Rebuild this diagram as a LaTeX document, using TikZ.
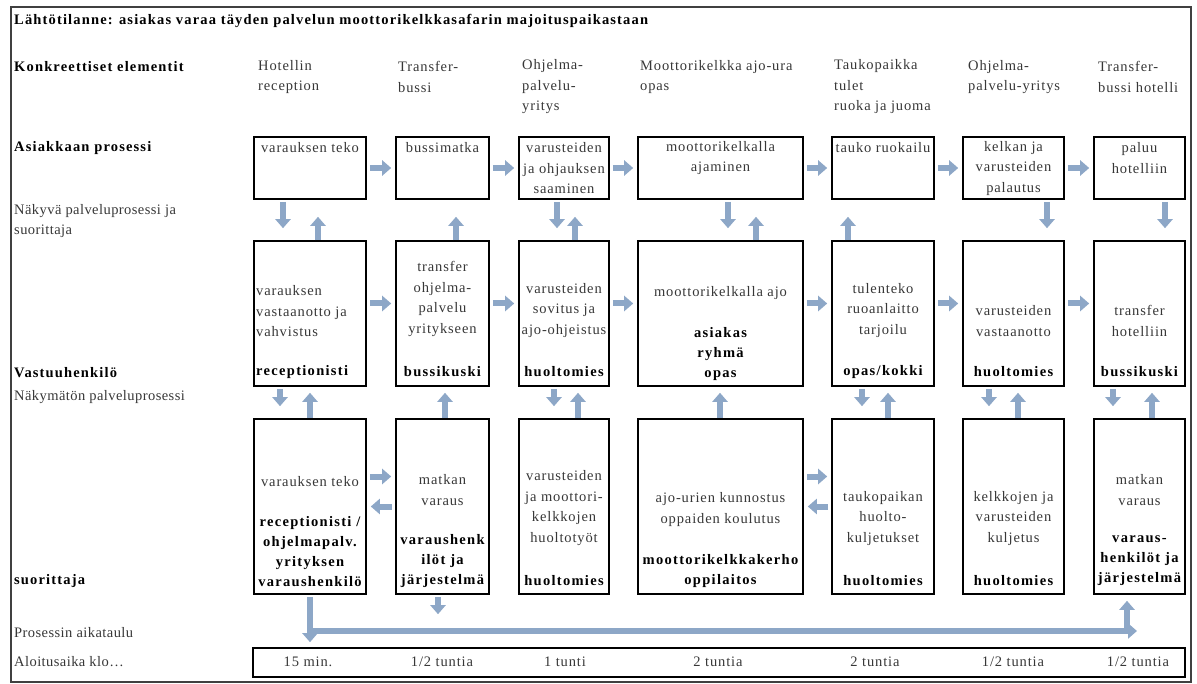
\documentclass[tikz,border=0pt]{standalone}
\usepackage{fontspec}
\setmainfont{Liberation Serif}[LetterSpace=6,BoldFeatures={LetterSpace=9}]
\newfontfamily\lblfont{Liberation Serif}[LetterSpace=3,BoldFeatures={LetterSpace=8}]
\usetikzlibrary{arrows.meta,calc}
\definecolor{arr}{RGB}{141,167,199}
\definecolor{txtc}{RGB}{55,55,55}
\begin{document}
\begin{tikzpicture}[x=1pt,y=-1pt,
  box/.style={draw=black,line width=1.6pt,inner sep=0pt},
  barrow/.style={draw=arr,line width=6pt,-{Triangle[width=15pt,length=9pt]}},
  tx/.style={text=txtc,inner sep=0pt,align=center,font=\fontsize{14.5}{20.5}\selectfont},
  bt/.style={text=black,inner sep=0pt,align=center,font=\bfseries\fontsize{14.5}{20}\selectfont},
  lt/.style={text=txtc,inner sep=0pt,align=left,anchor=west,font=\lblfont\fontsize{14.5}{20}\selectfont},
  lb/.style={text=black,inner sep=0pt,align=left,anchor=west,font=\lblfont\bfseries\fontsize{14.5}{20}\selectfont},
  hs/.style={shorten <=3pt,shorten >=4pt}]
\useasboundingbox (0,0) rectangle (1197,684);
\draw[line width=2pt,draw=black!75] (11,7) rectangle (1191,682);

% boxes
\foreach \n/\x/\w in {1/310/112,2/442.5/93,3/564/90,4/720.5/165,5/883/102,6/1013.5/101,7/1139.5/91}{
  \node[box,minimum width=\w pt,minimum height=62pt] (r1c\n) at (\x,168) {};
  \node[box,minimum width=\w pt,minimum height=145pt] (r2c\n) at (\x,313.5) {};
  \node[box,minimum width=\w pt,minimum height=175pt] (r3c\n) at (\x,506.5) {};
}
\node[box,minimum width=932pt,minimum height=29pt] (tl) at (719,662.5) {};

% left labels
\node[lb] (title) at (14,21) {Lähtötilanne: asiakas varaa täyden palvelun moottorikelkkasafarin majoituspaikastaan};
\node[lb] (lk) at (14,67) {Konkreettiset elementit};
\node[lb] (la) at (14,148) {Asiakkaan prosessi};
\node[lt] (ln) at (14,221) {Näkyvä palveluprosessi ja\\suorittaja};
\node[lb] (lv) at (14,373) {Vastuuhenkilö};
\node[lt] (lm) at (14,397) {Näkymätön palveluprosessi};
\node[lb] (ls) at (14,581) {suorittaja};
\node[lt] (lp) at (14,633) {Prosessin aikataulu};
\node[lt] (lal) at (14,662) {Aloitusaika klo…};

% headers
\node[tx,anchor=west,align=left] (h1) at (258,77) {Hotellin\\reception};
\node[tx,anchor=west,align=left] (h2) at (398,77) {Transfer-\\bussi};
\node[tx,anchor=west,align=left] (h3) at (522,87) {Ohjelma-\\palvelu-\\yritys};
\node[tx,anchor=west,align=left] (h4) at (640,77) {Moottorikelkka ajo-ura\\opas};
\node[tx,anchor=west,align=left] (h5) at (834,87) {Taukopaikka\\tulet\\ruoka ja juoma};
\node[tx,anchor=west,align=left] (h6) at (968,77) {Ohjelma-\\palvelu-yritys};
\node[tx,anchor=west,align=left] (h7) at (1098,77) {Transfer-\\bussi hotelli};

% row 1 texts
\node[tx] (a1) at (310,148) {varauksen teko};
\node[tx] (a2) at (442.5,148) {bussimatka};
\node[tx] (a3) at (564,168.5) {varusteiden\\ja ohjauksen\\saaminen};
\node[tx] (a4) at (720.5,158) {moottorikelkalla\\ajaminen};
\node[tx] (a5) at (883,148) {tauko ruokailu};
\node[tx] (a6) at (1013.5,168.5) {kelkan ja\\varusteiden\\palautus};
\node[tx] (a7) at (1139.5,158) {paluu\\hotelliin};

% row 2 texts
\node[tx,anchor=west,align=left] (b1) at (256,311.5) {varauksen\\vastaanotto ja\\vahvistus};
\node[bt,anchor=west] (b1b) at (256,372) {receptionisti};
\node[tx] (b2) at (442.5,299) {transfer\\ohjelma-\\palvelu\\yritykseen};
\node[bt] (b2b) at (442.5,372) {bussikuski};
\node[tx] (b3) at (564,310.5) {varusteiden\\sovitus ja\\ajo-ohjeistus};
\node[bt] (b3b) at (564,372) {huoltomies};
\node[tx] (b4) at (720.5,293) {moottorikelkalla ajo};
\node[bt] (b4b) at (720.5,354) {asiakas\\ryhmä\\opas};
\node[tx] (b5) at (883,310.5) {tulenteko\\ruoanlaitto\\tarjoilu};
\node[bt] (b5b) at (883,372) {opas/kokki};
\node[tx] (b6) at (1013.5,321) {varusteiden\\vastaanotto};
\node[bt] (b6b) at (1013.5,372) {huoltomies};
\node[tx] (b7) at (1139.5,321) {transfer\\hotelliin};
\node[bt] (b7b) at (1139.5,372) {bussikuski};

% row 3 texts
\node[tx] (c1) at (310,482) {varauksen teko};
\node[bt] (c1b) at (310,551.5) {receptionisti /\\ohjelmapalv.\\yrityksen\\varaushenkilö};
\node[tx] (c2) at (442.5,490) {matkan\\varaus};
\node[bt] (c2b) at (442.5,561) {varaushenk\\ilöt ja\\järjestelmä};
\node[tx] (c3) at (564,508) {varusteiden\\ja moottori-\\kelkkojen\\huoltotyöt};
\node[bt] (c3b) at (564,581) {huoltomies};
\node[tx] (c4) at (720.5,509.5) {ajo-urien kunnostus\\oppaiden koulutus};
\node[bt] (c4b) at (720.5,571) {moottorikelkkakerho\\oppilaitos};
\node[tx] (c5) at (883,518.5) {taukopaikan\\huolto-\\kuljetukset};
\node[bt] (c5b) at (883,581) {huoltomies};
\node[tx] (c6) at (1013.5,518.5) {kelkkojen ja\\varusteiden\\kuljetus};
\node[bt] (c6b) at (1013.5,581) {huoltomies};
\node[tx] (c7) at (1139.5,490) {matkan\\varaus};
\node[bt] (c7b) at (1139.5,561) {varaus-\\henkilöt ja\\järjestelmä};

% timeline texts
\node[tx] (d1) at (308,662) {15 min.};
\node[tx] (d2) at (442,662) {1/2 tuntia};
\node[tx] (d3) at (565,662) {1 tunti};
\node[tx] (d4) at (718,662) {2 tuntia};
\node[tx] (d5) at (875,662) {2 tuntia};
\node[tx] (d6) at (1013,662) {1/2 tuntia};
\node[tx] (d7) at (1138,662) {1/2 tuntia};

% horizontal arrows
\foreach \a/\b in {1/2,2/3,3/4,4/5,5/6,6/7}{
  \draw[barrow,hs] (r1c\a) -- (r1c\b);
  \draw[barrow,hs] ([yshift=10pt]r2c\a.east) -- ([yshift=10pt]r2c\b.west);
}
\foreach \a/\b in {1/2,4/5}{
  \draw[barrow,hs] ([yshift=30pt]r3c\a.east) -- ([yshift=30pt]r3c\b.west);
  \draw[barrow,hs] (r3c\b.west) -- (r3c\a.east);
}

% vertical arrows row1 <-> row2
\foreach \x/\c in {283/1,557/3,728/4,1047/6,1165/7}{
  \draw[barrow,shorten <=2pt,shorten >=12pt] (\x,0 |- r1c\c.south) -- (\x,0 |- r2c\c.north);
}
\foreach \x/\c in {318/1,456/2,575/3,756/4,848/5}{
  \draw[barrow,shorten >=17pt] (\x,0 |- r2c\c.north) -- (\x,0 |- r1c\c.south);
}
% vertical arrows row2 <-> row3
\foreach \x/\c in {280/1,554/3,862/5,989/6,1113/7}{
  \draw[barrow,shorten <=2pt,shorten >=12pt] (\x,0 |- r2c\c.south) -- (\x,0 |- r3c\c.north);
}
\foreach \x/\c in {310/1,445/2,578/3,720/4,888/5,1018/6,1152/7}{
  \draw[barrow,shorten >=6pt] (\x,0 |- r3c\c.north) -- (\x,0 |- r2c\c.south);
}
% col2 row3 down
\draw[barrow,shorten <=2pt,shorten >=33pt] (438,0 |- r3c2.south) -- (438,0 |- tl.north);

% timeline arrows
\coordinate (tlL) at (310,631);
\coordinate (tlR) at (1137,631);
\draw[barrow,shorten <=2pt,shorten >=5pt] (r3c1.south) -- (r3c1.south |- tl.north);
\draw[barrow] (tlL) -- (tlR);
\draw[barrow,shorten <=-2pt,shorten >=6pt] (1127,0 |- tlR) -- (1127,0 |- r3c7.south);
\end{tikzpicture}
\end{document}
